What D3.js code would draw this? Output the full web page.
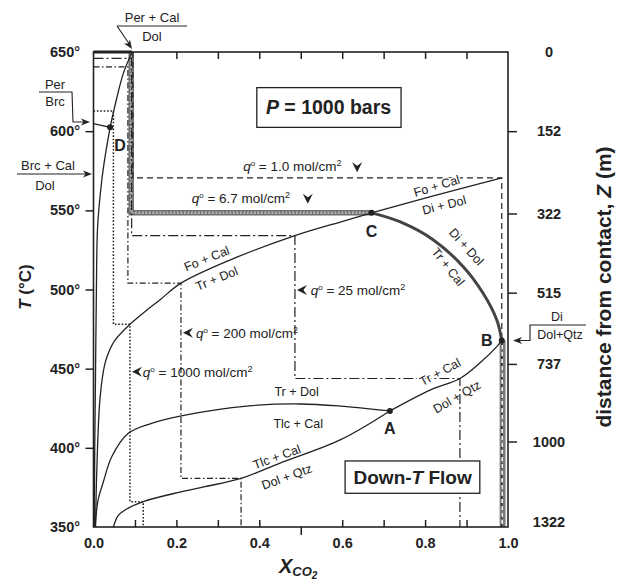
<!DOCTYPE html>
<html>
<head>
<meta charset="utf-8">
<script src="https://cdn.jsdelivr.net/npm/d3@7"></script>
<style>
body { margin: 0; background: #fff; }
text { font-family: "Liberation Sans", Arial, sans-serif; fill: #222; }
</style>
</head>
<body>
<div class="render"></div>
<script>
// axis values
var tempTicks = [350, 400, 450, 500, 550, 600, 650];
var xTicks = [0.1, 0.2, 0.3, 0.4, 0.5, 0.6, 0.7, 0.8, 0.9];
var xLabels = [0, 0.2, 0.4, 0.6, 0.8, 1.0];
var depthTicks = [0, 152, 322, 515, 737, 1000, 1322];
var depthTemps = [650, 600, 548, 498, 453, 404, 350];

// reaction curves, [X_CO2, T]
var brcCurve = [[0.002, 350], [0.003, 400], [0.005, 450], [0.007, 500], [0.010, 540], [0.020, 569], [0.028, 584], [0.040, 602.4]];
var perCalCurve = [[0.040, 602.4], [0.056, 620.8], [0.072, 636.5], [0.093, 650]];
var perBrcLine = [[0, 604.8], [0.040, 602.4]];
var foTrCurve = [[0.005, 350], [0.008, 386], [0.016, 432], [0.028, 453.6], [0.040, 462.4], [0.052, 468], [0.088, 478], [0.124, 486], [0.160, 493.4], [0.211, 504], [0.329, 518.6], [0.486, 534], [0.595, 542.6], [0.671, 548.4]];
var foDiCurve = [[0.671, 548.4], [0.820, 559.1], [0.985, 570.5]];
var diTrCurve = [[0.671, 548.4], [0.739, 542.8], [0.820, 531.3], [0.892, 514.4], [0.940, 497.6], [0.973, 480.7], [0.985, 467.8]];
var trTlcCurve = [[0.004, 350], [0.011, 367], [0.023, 377.8], [0.044, 394.4], [0.084, 409.2], [0.140, 415.5], [0.221, 420.7], [0.370, 426.4], [0.498, 427.7], [0.595, 426.4], [0.715, 423.3]];
var tlcDolCurve = [[0.048, 350], [0.059, 357], [0.076, 360.7], [0.120, 366], [0.209, 372.1], [0.269, 375.5], [0.356, 380.7], [0.450, 390.4], [0.595, 405], [0.715, 423.3]];
var trDolCurve = [[0.715, 423.3], [0.812, 436.5], [0.884, 443.8], [0.932, 453.6], [0.973, 463.9], [0.985, 467.8]];
var points = [
  {name: 'A', p: [0.715, 423.3], lab: [0.715, 412.3]},
  {name: 'B', p: [0.985, 467.8], lab: [0.949, 468.1]},
  {name: 'C', p: [0.671, 548.4], lab: [0.671, 536.5]},
  {name: 'D', p: [0.040, 602.4], lab: [0.064, 591.3]}
];

// fluid flow paths
var q1Path = [[0.095, 650], [0.095, 570.5], [0.985, 570.5], [0.985, 350]];
var q67Top = [[0.091, 650], [0.091, 548.4], [0.671, 548.4]];
var q67Bottom = [[0.987, 467.8], [0.987, 350]];
var q25Path = [[0, 646], [0.092, 646], [0.092, 534], [0.486, 534], [0.486, 443.8], [0.884, 443.8], [0.884, 350]];
var q200Path = [[0, 640.6], [0.083, 640.6], [0.083, 504], [0.211, 504], [0.211, 380.7], [0.356, 380.7], [0.356, 350]];
var q1000Path = [[0, 612.7], [0.048, 612.7], [0.048, 478], [0.088, 478], [0.088, 366], [0.120, 366], [0.120, 350]];

var width = 628, height = 582;
var x = d3.scaleLinear().domain([0, 1]).range([93.5, 508]);
var y = d3.scaleLinear().domain([350, 650]).range([527, 52]);
var zY = d3.scaleLinear().domain(depthTicks).range(depthTemps.map(function(t) { return y(t); }));

var svg = d3.select(".render").append("svg")
    .attr("width", width).attr("height", height);

var line = d3.line().x(function(d) { return x(d[0]); }).y(function(d) { return y(d[1]); });
var smooth = d3.line().x(function(d) { return x(d[0]); }).y(function(d) { return y(d[1]); })
    .curve(d3.curveCatmullRom.alpha(0.5));

function arrowHead(px, py, angle, big) {
    svg.append("path")
        .attr("d", big ? "M0,0L-10,-5L-6.5,0L-10,5Z" : "M0,0L-9,-3.6L-6.5,0L-9,3.6Z")
        .attr("transform", "translate(" + px + "," + py + ") rotate(" + angle + ")")
        .attr("fill", "#222");
}

// flow paths
svg.append("path").attr("d", line(q67Top)).attr("fill", "none")
    .attr("stroke", "#707070").attr("stroke-width", 5.5);
svg.append("path").attr("d", line(q67Top)).attr("fill", "none")
    .attr("stroke", "#b5b5b5").attr("stroke-width", 2.5).attr("stroke-dasharray", "2,1.5");
svg.append("path").attr("d", line(q67Bottom)).attr("fill", "none")
    .attr("stroke", "#7a7a7a").attr("stroke-width", 6);

svg.append("path").attr("d", line(q1Path)).attr("fill", "none")
    .attr("stroke", "#222").attr("stroke-width", 1.2).attr("stroke-dasharray", "6,4");
svg.append("path").attr("d", line([[0.986, 465], [0.986, 350]])).attr("fill", "none")
    .attr("stroke", "#fff").attr("stroke-width", 1.4).attr("stroke-dasharray", "4,3");
svg.append("path").attr("d", line(q25Path)).attr("fill", "none")
    .attr("stroke", "#222").attr("stroke-width", 1.2).attr("stroke-dasharray", "10,3,2,3");
svg.append("path").attr("d", line(q200Path)).attr("fill", "none")
    .attr("stroke", "#222").attr("stroke-width", 1.2).attr("stroke-dasharray", "6,2.5,1.5,2.5");
svg.append("path").attr("d", line(q1000Path)).attr("fill", "none")
    .attr("stroke", "#222").attr("stroke-width", 1.5).attr("stroke-dasharray", "1.6,1.8");

// reaction curves
[brcCurve, perCalCurve, foTrCurve, foDiCurve, trTlcCurve, tlcDolCurve, trDolCurve].forEach(function(c) {
    svg.append("path").attr("d", smooth(c)).attr("fill", "none")
        .attr("stroke", "#222").attr("stroke-width", 1.3);
});
svg.append("path").attr("d", line(perBrcLine)).attr("fill", "none")
    .attr("stroke", "#222").attr("stroke-width", 1.3);
svg.append("path").attr("d", smooth(diTrCurve)).attr("fill", "none")
    .attr("stroke", "#444").attr("stroke-width", 3);

// points
svg.selectAll("circle.pt").data(points).enter().append("circle")
    .attr("class", "pt")
    .attr("cx", function(d) { return x(d.p[0]); })
    .attr("cy", function(d) { return y(d.p[1]); })
    .attr("r", 3).attr("fill", "#222");
svg.selectAll("text.pt").data(points).enter().append("text")
    .attr("class", "pt")
    .attr("x", function(d) { return x(d.lab[0]); })
    .attr("y", function(d) { return y(d.lab[1]); })
    .attr("dy", "0.36em").attr("text-anchor", "middle")
    .attr("font-size", 16).attr("font-weight", "bold")
    .text(function(d) { return d.name; });

// frame
svg.append("rect").attr("x", x(0)).attr("y", y(650))
    .attr("width", x(1) - x(0)).attr("height", y(350) - y(650))
    .attr("fill", "none").attr("stroke", "#222").attr("stroke-width", 1.6);
svg.append("line").attr("x1", x(0)).attr("x2", x(0.093)).attr("y1", y(650)).attr("y2", y(650))
    .attr("stroke", "#222").attr("stroke-width", 3);

// axes
var axLeft = svg.append("g").attr("transform", "translate(" + x(0) + ",0)")
    .call(d3.axisLeft(y).tickValues(tempTicks).tickSize(8).tickPadding(5.5)
        .tickFormat(function(d) { return d + "°"; }));
axLeft.select(".domain").remove();
axLeft.selectAll(".tick line").filter(function(d) { return d === 350 || d === 650; }).remove();
axLeft.selectAll("text").attr("font-size", 14.5).attr("font-weight", "bold")
    .style("font-family", '"Liberation Sans", Arial, sans-serif').attr("fill", "#222");
axLeft.selectAll("line").attr("stroke", "#222").attr("stroke-width", 1.5);

var axBottom = svg.append("g").attr("transform", "translate(0," + y(350) + ")")
    .call(d3.axisBottom(x).tickValues(xTicks.concat([0, 1])).tickSize(-7).tickPadding(11)
        .tickFormat(function(d) { return xLabels.indexOf(d) >= 0 ? d3.format(".1f")(d) : ""; }));
axBottom.select(".domain").remove();
axBottom.selectAll(".tick line").filter(function(d) { return d === 0 || d === 1; }).remove();
axBottom.selectAll(".tick line").filter(function(d) { return d === 0.5; }).attr("y2", 8);
axBottom.selectAll("text").attr("font-size", 14.5).attr("font-weight", "bold")
    .style("font-family", '"Liberation Sans", Arial, sans-serif').attr("fill", "#222");
axBottom.selectAll("line").attr("stroke", "#222").attr("stroke-width", 1.5);

var axTop = svg.append("g").attr("transform", "translate(0," + y(650) + ")")
    .call(d3.axisTop(x).tickValues(xTicks.slice(1)).tickSize(-7).tickFormat(""));
axTop.select(".domain").remove();
axTop.selectAll("line").attr("stroke", "#222").attr("stroke-width", 1.5);

var axRight = svg.append("g").attr("transform", "translate(" + x(1) + ",0)")
    .call(d3.axisRight(zY).tickValues(depthTicks).tickSize(9).tickPadding(28)
        .tickFormat(d3.format("d")));
axRight.select(".domain").remove();
axRight.selectAll(".tick line").filter(function(d) { return d === 0 || d === 1322; }).remove();
axRight.selectAll("text").attr("font-size", 14.5).attr("font-weight", "bold")
    .attr("text-anchor", "middle").attr("x", 41)
    .style("font-family", '"Liberation Sans", Arial, sans-serif').attr("fill", "#222");
axRight.selectAll(".tick").filter(function(d) { return d === 1322; }).select("text").attr("dy", "-0.05em");
axRight.selectAll("line").attr("stroke", "#222").attr("stroke-width", 1.5);

// axis titles
var tTitle = svg.append("text").attr("transform", "translate(31,287) rotate(-90)")
    .attr("text-anchor", "middle").attr("font-size", 17).attr("font-weight", "bold");
tTitle.append("tspan").attr("font-style", "italic").text("T");
tTitle.append("tspan").text(" (°C)");

var xTitle = svg.append("text").attr("x", 279).attr("y", 573)
    .attr("font-size", 20).attr("font-weight", "bold").attr("font-style", "italic");
xTitle.append("tspan").text("X");
xTitle.append("tspan").attr("font-size", 13).attr("dy", 3).text("CO");
xTitle.append("tspan").attr("font-size", 10).attr("dy", 2.5).text("2");

var zTitle = svg.append("text").attr("transform", "translate(611,287) rotate(-90)")
    .attr("text-anchor", "middle").attr("font-size", 21).attr("font-weight", "bold");
zTitle.append("tspan").text("distance from contact, ");
zTitle.append("tspan").attr("font-style", "italic").text("Z");
zTitle.append("tspan").text(" (m)");

// boxes
function boxLabel(x0, t0, x1, t1) {
    svg.append("rect").attr("x", x(x0)).attr("y", y(t0))
        .attr("width", x(x1) - x(x0)).attr("height", y(t1) - y(t0))
        .attr("fill", "#fff").attr("stroke", "#222").attr("stroke-width", 1.3);
}
boxLabel(0.394, 627.5, 0.742, 602.4);
var pText = svg.append("text").attr("x", x(0.567)).attr("y", y(615)).attr("dy", "0.36em")
    .attr("text-anchor", "middle").attr("font-size", 19.5).attr("font-weight", "bold");
pText.append("tspan").attr("font-style", "italic").text("P");
pText.append("tspan").text(" = 1000 bars");

boxLabel(0.607, 391.7, 0.932, 371.3);
var fText = svg.append("text").attr("x", x(0.770)).attr("y", y(381.6)).attr("dy", "0.36em")
    .attr("text-anchor", "middle").attr("font-size", 19).attr("font-weight", "bold");
fText.append("tspan").text("Down-");
fText.append("tspan").attr("font-style", "italic").text("T");
fText.append("tspan").text(" Flow");

// q labels
function qLabel(xv, tv, val) {
    var t = svg.append("text").attr("x", x(xv)).attr("y", y(tv)).attr("dy", "0.36em")
        .attr("font-size", 13.5);
    t.append("tspan").attr("font-style", "italic").text("q");
    t.append("tspan").attr("font-size", 8).attr("dy", -5).text("o");
    t.append("tspan").attr("dy", 5).text(" = " + val + " mol/cm");
    t.append("tspan").attr("font-size", 9).attr("dy", -5).text("2");
}
qLabel(0.361, 577.6, "1.0");
qLabel(0.237, 557.6, "6.7");
qLabel(0.524, 499.7, "25");
qLabel(0.247, 472.7, "200");
qLabel(0.119, 448, "1000");
arrowHead(x(0.636), y(574), 90, true);
arrowHead(x(0.517), y(554.2), 90, true);
arrowHead(x(0.486) + 2, y(499.7), 180, true);
arrowHead(x(0.211) + 2, y(472.7), 180, true);
arrowHead(x(0.088) + 2, y(448), 180, true);

// curve labels
function curveLabel(xv, tv, rot, s, halo) {
    var t = svg.append("text")
        .attr("transform", "translate(" + x(xv) + "," + y(tv) + ") rotate(" + rot + ")")
        .attr("text-anchor", "middle").attr("dy", "0.36em").attr("font-size", 12.5).text(s);
    if (halo) t.attr("stroke", "#fff").attr("stroke-width", 3).attr("paint-order", "stroke");
}
curveLabel(0.273, 519.6, -22, "Fo + Cal");
curveLabel(0.297, 507, -22, "Tr + Dol");
curveLabel(0.828, 565.5, -17, "Fo + Cal", true);
curveLabel(0.846, 553.4, -14, "Di + Dol");
curveLabel(0.900, 527, 48, "Di + Dol");
curveLabel(0.856, 514.4, 52, "Tr + Cal");
curveLabel(0.490, 435.5, 0, "Tr + Dol");
curveLabel(0.494, 415.5, 0, "Tlc + Cal");
curveLabel(0.442, 394.4, -20, "Tlc + Cal");
curveLabel(0.466, 381.8, -20, "Dol + Qtz");
curveLabel(0.836, 448, -28, "Tr + Cal", true);
curveLabel(0.876, 432.3, -30, "Dol + Qtz");

// reaction labels outside the frame
function outText(px, py, s, size) {
    svg.append("text").attr("x", px).attr("y", py).attr("dy", "0.36em")
        .attr("text-anchor", "middle").attr("font-size", size).text(s);
}
function seg(pts) {
    svg.append("path").attr("d", d3.line()(pts)).attr("fill", "none")
        .attr("stroke", "#222").attr("stroke-width", 1.1);
}
outText(152, 17, "Per + Cal", 13);
outText(152, 36, "Dol", 13);
seg([[117, 26], [187, 26]]);
seg([[117, 26], [130, 45]]);
arrowHead(132, 49, 56);

outText(55, 84, "Per", 13);
outText(55, 101, "Brc", 13);
seg([[39, 92], [72, 92], [73, 122], [86, 122]]);
arrowHead(90, 122, 0);

outText(48, 165, "Brc + Cal", 13);
outText(45, 185, "Dol", 13);
seg([[17, 174], [88, 174]]);
arrowHead(92, 174, 0);

outText(557, 316, "Di", 12.5);
outText(560, 334, "Dol+Qtz", 12.5);
seg([[586, 325], [530, 325], [530, 340.5], [517, 340.5]]);
arrowHead(513, 340.5, 180);
</script>
</body>
</html>
